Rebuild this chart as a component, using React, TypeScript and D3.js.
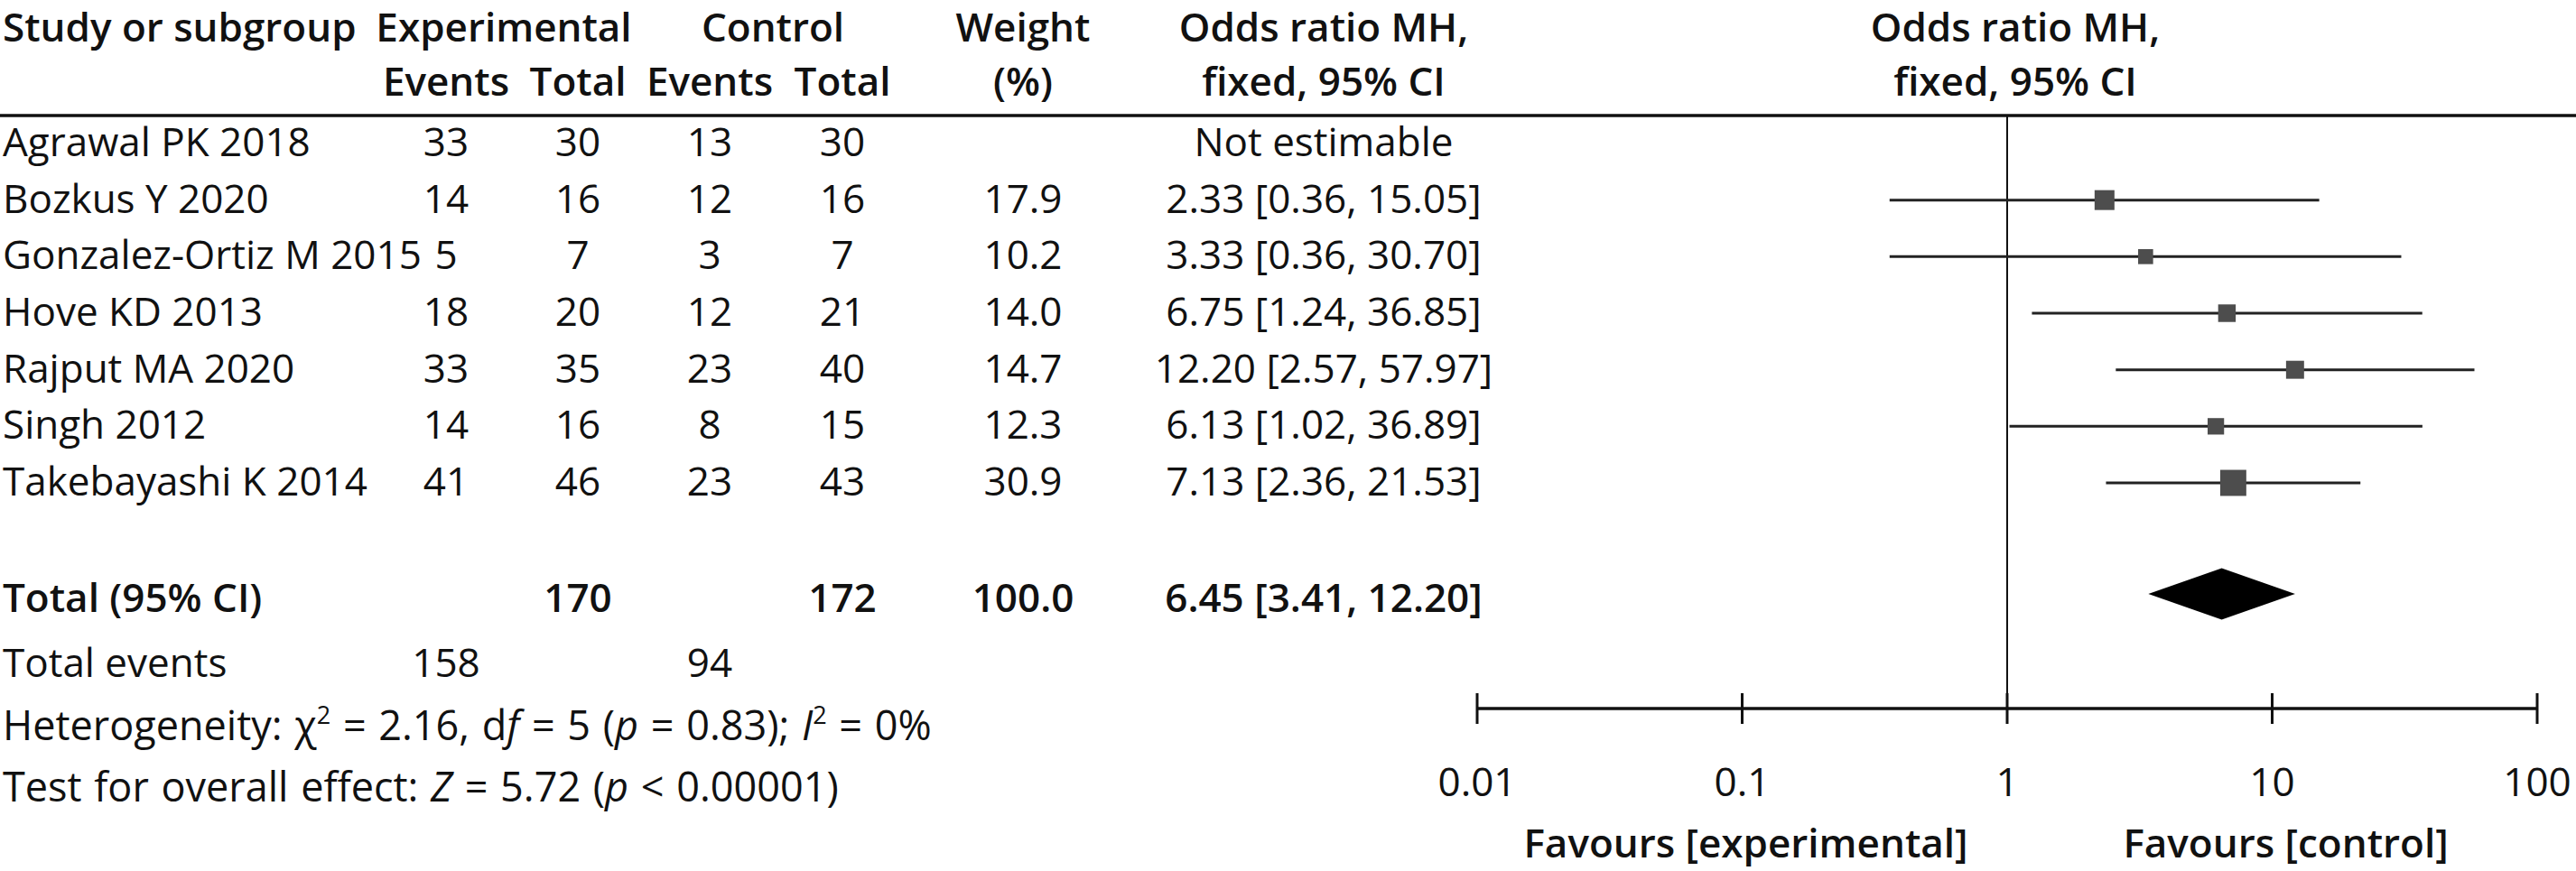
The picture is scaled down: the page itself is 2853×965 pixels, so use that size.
import { useEffect, useRef } from "react"
import * as d3 from "d3"

// Study rows
const studies = [
  "Agrawal PK 2018",
  "Bozkus Y 2020",
  "Gonzalez-Ortiz M 2015",
  "Hove KD 2013",
  "Rajput MA 2020",
  "Singh 2012",
  "Takebayashi K 2014",
]
const expEvents = [33, 14, 5, 18, 33, 14, 41]
const expTotal = [30, 16, 7, 20, 35, 16, 46]
const ctrlEvents = [13, 12, 3, 12, 23, 8, 23]
const ctrlTotal = [30, 16, 7, 21, 40, 15, 43]
const weights: (number | null)[] = [null, 17.9, 10.2, 14.0, 14.7, 12.3, 30.9]
const oddsRatio: (number | null)[] = [null, 2.33, 3.33, 6.75, 12.2, 6.13, 7.13]
const ciLow: (number | null)[] = [null, 0.36, 0.36, 1.24, 2.57, 1.02, 2.36]
const ciHigh: (number | null)[] = [null, 15.05, 30.7, 36.85, 57.97, 36.89, 21.53]

// Pooled result
const totalExp = 170
const totalCtrl = 172
const totalWeight = 100.0
const pooled = { or: 6.45, lo: 3.41, hi: 12.2 }
const totalEventsExp = 158
const totalEventsCtrl = 94

const axisTicks = [0.01, 0.1, 1, 10, 100]

const W = 2853
const H = 965
const FONT = "'Open Sans', 'Noto Sans', sans-serif"
const FS = 44

export default function App() {
  const svgRef = useRef<SVGSVGElement>(null)

  useEffect(() => {
    if (!svgRef.current) return
    const svg = d3.select(svgRef.current)
    svg.selectAll("*").remove()

    svg.append("rect").attr("width", W).attr("height", H).attr("fill", "#fff")

    // column centres
    const col = { label: 3, expE: 494, expT: 640, ctrlE: 786, ctrlT: 933, weight: 1133, or: 1466, plot: 2232 }

    const rowBase = d3.scaleLinear().domain([0, 6]).range([173, 549])
    const x = d3.scaleLog().domain([0.01, 100]).range([1636, 2810])

    const text = (
      tx: number,
      ty: number,
      s: string,
      anchor = "middle",
      bold = false
    ) =>
      svg
        .append("text")
        .attr("x", tx)
        .attr("y", ty)
        .attr("text-anchor", anchor)
        .attr("font-family", FONT)
        .attr("font-size", FS)
        .attr("font-weight", bold ? 600 : 400)
        .attr("fill", "#111")
        .text(s)

    // Headers
    const h1 = 46
    const h2 = 106
    text(col.label, h1, "Study or subgroup", "start", true)
    text(558, h1, "Experimental", "middle", true)
    text(856, h1, "Control", "middle", true)
    text(col.weight, h1, "Weight", "middle", true)
    text(col.or, h1, "Odds ratio MH,", "middle", true)
    text(col.plot, h1, "Odds ratio MH,", "middle", true)
    text(col.expE, h2, "Events", "middle", true)
    text(col.expT, h2, "Total", "middle", true)
    text(col.ctrlE, h2, "Events", "middle", true)
    text(col.ctrlT, h2, "Total", "middle", true)
    text(col.weight, h2, "(%)", "middle", true)
    text(col.or, h2, "fixed, 95% CI", "middle", true)
    text(col.plot, h2, "fixed, 95% CI", "middle", true)

    // header rule
    svg
      .append("line")
      .attr("x1", 0)
      .attr("x2", W)
      .attr("y1", 128)
      .attr("y2", 128)
      .attr("stroke", "#111")
      .attr("stroke-width", 3.5)

    // vertical line of no effect
    svg
      .append("line")
      .attr("x1", x(1))
      .attr("x2", x(1))
      .attr("y1", 128)
      .attr("y2", 802)
      .attr("stroke", "#111")
      .attr("stroke-width", 2)

    // study rows
    studies.forEach((name, i) => {
      const yb = rowBase(i)
      text(col.label, yb, name, "start")
      text(col.expE, yb, String(expEvents[i]))
      text(col.expT, yb, String(expTotal[i]))
      text(col.ctrlE, yb, String(ctrlEvents[i]))
      text(col.ctrlT, yb, String(ctrlTotal[i]))
      const w = weights[i]
      const o = oddsRatio[i]
      const lo = ciLow[i]
      const hi = ciHigh[i]
      if (w === null || o === null || lo === null || hi === null) {
        text(col.or, yb, "Not estimable")
        return
      }
      text(col.weight, yb, w.toFixed(1))
      text(col.or, yb, `${o.toFixed(2)} [${lo.toFixed(2)}, ${hi.toFixed(2)}]`)

      const yc = yb - 14
      svg
        .append("line")
        .attr("x1", x(lo))
        .attr("x2", x(hi))
        .attr("y1", yc)
        .attr("y2", yc)
        .attr("stroke", "#222")
        .attr("stroke-width", 3)
      // square area proportional to weight
      const side = 5.2 * Math.sqrt(w)
      svg
        .append("rect")
        .attr("x", x(o) - side / 2)
        .attr("y", yc - side / 2)
        .attr("width", side)
        .attr("height", side)
        .attr("fill", "#4d4d4d")
    })

    // total row
    const yt = 678
    text(col.label, yt, "Total (95% CI)", "start", true)
    text(col.expT, yt, String(totalExp), "middle", true)
    text(col.ctrlT, yt, String(totalCtrl), "middle", true)
    text(col.weight, yt, totalWeight.toFixed(1), "middle", true)
    text(col.or, yt, `${pooled.or.toFixed(2)} [${pooled.lo.toFixed(2)}, ${pooled.hi.toFixed(2)}]`, "middle", true)

    const yd = yt - 20
    const dh = 28.5
    svg
      .append("path")
      .attr(
        "d",
        `M${x(pooled.lo)},${yd} L${x(pooled.or)},${yd - dh} L${x(pooled.hi)},${yd} L${x(pooled.or)},${yd + dh} Z`
      )
      .attr("fill", "#000")

    text(col.label, 750, "Total events", "start")
    text(col.expE, 750, String(totalEventsExp))
    text(col.ctrlE, 750, String(totalEventsCtrl))

    // Heterogeneity line with italics and superscripts
    const het = svg
      .append("text")
      .attr("x", col.label)
      .attr("y", 820)
      .attr("font-family", FONT)
      .attr("font-size", 45)
      .attr("word-spacing", 2)
      .attr("fill", "#111")
    const parts: [string, string][] = [
      ["Heterogeneity: χ", "n"],
      ["2", "sup"],
      [" = 2.16, d", "n"],
      ["f", "i"],
      [" = 5 (", "n"],
      ["p", "i"],
      [" = 0.83); ", "n"],
      ["I", "i"],
      ["2", "sup"],
      [" = 0%", "n"],
    ]
    let shifted = false
    parts.forEach(([s, kind]) => {
      const t = het.append("tspan").text(s)
      if (kind === "i") t.attr("font-style", "italic")
      if (kind === "sup") {
        t.attr("font-size", 27).attr("dy", -18)
        shifted = true
      } else if (shifted) {
        t.attr("dy", 18)
        shifted = false
      }
    })

    const test = svg
      .append("text")
      .attr("x", col.label)
      .attr("y", 888)
      .attr("font-family", FONT)
      .attr("font-size", 45)
      .attr("word-spacing", 2)
      .attr("fill", "#111")
    const parts2: [string, string][] = [
      ["Test for overall effect: ", "n"],
      ["Z", "i"],
      [" = 5.72 (", "n"],
      ["p", "i"],
      [" < 0.00001)", "n"],
    ]
    parts2.forEach(([s, kind]) => {
      const t = test.append("tspan").text(s)
      if (kind === "i") t.attr("font-style", "italic")
    })

    // x axis
    const axisY = 785
    svg
      .append("line")
      .attr("x1", x(0.01))
      .attr("x2", x(100))
      .attr("y1", axisY)
      .attr("y2", axisY)
      .attr("stroke", "#111")
      .attr("stroke-width", 3.5)
    axisTicks.forEach((t) => {
      svg
        .append("line")
        .attr("x1", x(t))
        .attr("x2", x(t))
        .attr("y1", 768)
        .attr("y2", 802)
        .attr("stroke", "#111")
        .attr("stroke-width", 3)
      text(x(t), 882, String(t))
    })

    text(x(0.1) + 4, 950, "Favours [experimental]", "middle", true)
    text(x(10) + 15, 950, "Favours [control]", "middle", true)
  }, [])

  return (
    <svg
      ref={svgRef}
      width={W}
      height={H}
      style={{ position: "absolute", left: 0, top: 0, display: "block" }}
    />
  )
}
